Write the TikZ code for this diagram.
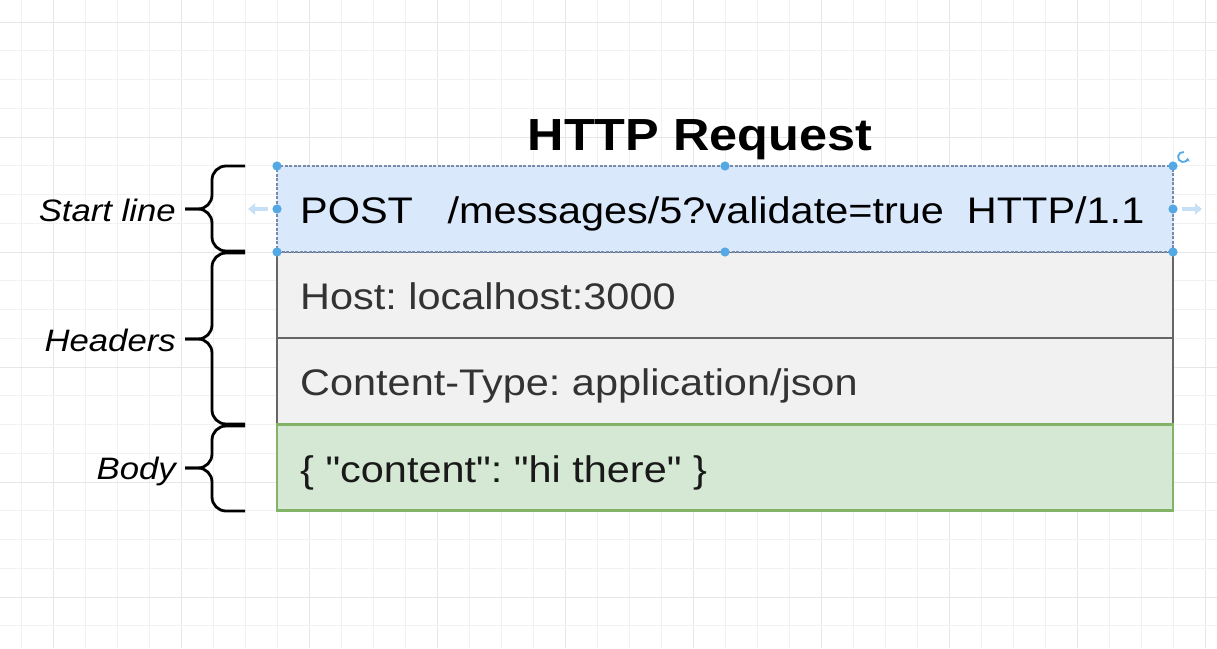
\documentclass[tikz,border=0pt]{standalone}
\usepackage{fontspec}
\setmainfont{Liberation Sans}[Ligatures=TeXOff]
\usepackage{graphicx}
\usetikzlibrary{arrows.meta}

\definecolor{gridminor}{RGB}{242,242,242}
\definecolor{gridmajor}{RGB}{230,230,230}
\definecolor{startfill}{HTML}{DAE8FC}
\definecolor{startline}{RGB}{118,138,172}
\definecolor{hdrfill}{HTML}{F1F1F1}
\definecolor{hdrline}{HTML}{666666}
\definecolor{bodyfill}{HTML}{D5E8D4}
\definecolor{bodyline}{HTML}{82B366}
\definecolor{handlecol}{RGB}{84,168,228}
\definecolor{hintcol}{RGB}{200,224,245}
\definecolor{hdrtext}{HTML}{333333}

% text in this drawing is set slightly wide
\newcommand{\wide}[1]{\scalebox{1.12}[1]{#1}}
\frenchspacing

\begin{document}
\begin{tikzpicture}[x=1pt,y=-1pt,
  rowbox/.style={rectangle, minimum width=896pt, minimum height=86pt,
    inner sep=0pt, outer sep=0pt, line width=2.7pt},
  hdrbox/.style={rowbox, fill=hdrfill, draw=hdrline},
  bodybox/.style={rowbox, fill=bodyfill, draw=bodyline},
  startbox/.style={rowbox, fill=startfill, draw=startline, line width=1.6pt,
    dash pattern=on 3pt off 1.5pt},
  rowtext/.style={font=\fontsize{37}{44}\selectfont, inner sep=0pt, anchor=base west},
  sidelabel/.style={font=\itshape\fontsize{31}{38}\selectfont, inner sep=0pt, anchor=base east},
  brace/.style={line width=2.8pt, rounded corners=14pt},
  handle/.style={fill=handlecol},
  hint/.style={draw=hintcol, line width=4pt, -{Triangle[width=11pt,length=7pt]}}
]
\useasboundingbox (0,0) rectangle (1217,648);
\fill[white] (0,0) rectangle (1217,648);

% background grid
\foreach \k in {0,...,37}{
  \pgfmathtruncatemacro\m{mod(\k,4)}
  \ifnum\m=1 \def\gc{gridmajor}\else\def\gc{gridminor}\fi
  \draw[draw=\gc, line width=1pt] ({21+32*\k},0) -- ({21+32*\k},648);
}
\foreach \j in {0,...,21}{
  \pgfmathtruncatemacro\m{mod(\j,4)}
  \ifnum\m=0 \def\gc{gridmajor}\else\def\gc{gridminor}\fi
  \draw[draw=\gc, line width=1pt] (0,{22+28.75*\j}) -- (1217,{22+28.75*\j});
}

% title
\node[font=\bfseries\fontsize{45}{52}\selectfont, inner sep=0pt, anchor=base] (title)
  at (700,150) {\wide{HTTP Request}};

% the four rows of the request
\node[hdrbox] (host) at (725,295) {};
\node[hdrbox] (ctype) at (725,381) {};
\node[bodybox] (body) at (725,467.5) {};
\node[startbox] (start) at (725,209) {};

\node[rowtext] (starttxt) at (300,223)
  {\wide{POST\ \ \ /messages/5?validate=true\ \ HTTP/1.1}};
\node[rowtext, text=hdrtext] (hosttxt) at (300,309) {\wide{Host: localhost:3000}};
\node[rowtext, text=hdrtext] (ctypetxt) at (300,395) {\wide{Content-Type: application/json}};
\node[rowtext, text=black!90] (bodytxt) at (300,482) {\wide{\{ "content": "hi there" \}}};

% section labels
\node[sidelabel] (lblstart) at (176,221) {\wide{Start line}};
\node[sidelabel] (lblhdr) at (176,351) {\wide{Headers}};
\node[sidelabel] (lblbody) at (176,479) {\wide{Body}};

% curly braces
\coordinate (tipstart) at (185,209);
\coordinate (tiphdr) at (185,339);
\coordinate (tipbody) at (185,468);
\draw[brace] (245,166) -| (212,209) -- (tipstart);
\draw[brace] (tipstart) -- (212,209) |- (245,251);
\draw[brace] (245,253) -| (212,339) -- (tiphdr);
\draw[brace] (tiphdr) -- (212,339) |- (245,424);
\draw[brace] (245,426) -| (212,468) -- (tipbody);
\draw[brace] (tipbody) -- (212,468) |- (245,511);

% selection handles on the start line
\foreach \p in {start.north west, start.north, start.north east,
                start.west, start.east,
                start.south west, start.south, start.south east}
  \fill[handle] (\p) circle (4.6pt);
\draw[hint] ([xshift=-9pt]start.west) -- ++(-20pt,0);
\draw[hint] ([xshift=9pt]start.east) -- ++(20pt,0);
\draw[handlecol, line width=1.8pt, -{Stealth[length=3.5pt,width=5pt]}]
  ([shift={(1183,157)}]80:5pt) arc[start angle=80, end angle=350, radius=5pt];
\end{tikzpicture}
\end{document}
